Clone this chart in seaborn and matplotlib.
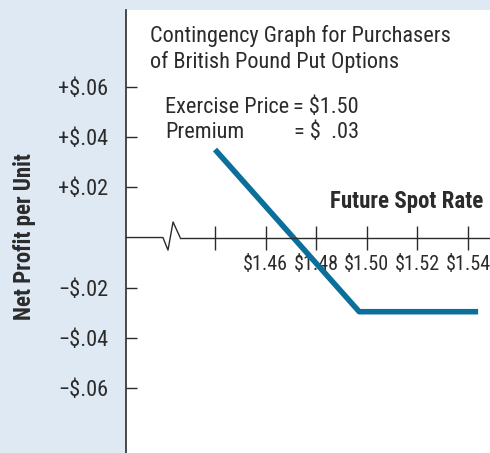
import numpy as np
import pandas as pd
import seaborn as sns
import matplotlib.pyplot as plt

# values
spot_rate = [1.44, 1.497, 1.544]
net_profit = [0.035, -0.0295, -0.0295]

x_ticks = [1.44, 1.46, 1.48, 1.50, 1.52, 1.54]
x_tick_labels = ["", "$1.46", "$1.48", "$1.50", "$1.52", "$1.54"]
y_ticks = [0.06, 0.04, 0.02, -0.02, -0.04, -0.06]
y_tick_labels = ["+$.06", "+$.04", "+$.02", "\u2212$.02", "\u2212$.04", "\u2212$.06"]

title_lines = ["Contingency Graph for Purchasers", "of British Pound Put Options"]
exercise_price = "$1.50"
premium = "$  .03"

sns.set_theme(style="white")
plt.rcParams['font.family'] = ['Roboto Condensed', 'Liberation Sans', 'DejaVu Sans']
plt.rcParams['text.parse_math'] = False

W, H = 490, 453
bg = "#dfe9f4"
line_col = "#0a6f9b"
ink = "#2b2b2b"

fig = plt.figure(figsize=(W / 100, H / 100), dpi=100)
fig.patch.set_facecolor(bg)
ax = fig.add_axes([126 / W, 0, (W - 126) / W, (H - 10) / H])
ax.set_facecolor("white")

df = pd.DataFrame({"rate": spot_rate, "profit": net_profit})
sns.lineplot(data=df, x="rate", y="profit", ax=ax, color=line_col,
             linewidth=4, sort=False, solid_capstyle="butt")

ax.set_xlim(1.4048, 1.5487)
ax.set_ylim(-0.0857, 0.0905)

for s in ["top", "right"]:
    ax.spines[s].set_visible(False)
ax.spines["left"].set_color(ink)
ax.spines["left"].set_linewidth(1.2)

# x axis sits at zero, with a break mark near the y axis
brk = 1.4262
ax.spines["bottom"].set_position(("data", 0))
ax.spines["bottom"].set_bounds(brk, 1.5487)
ax.spines["bottom"].set_color(ink)
ax.spines["bottom"].set_linewidth(1.0)
ax.plot([1.4048, 1.4194, 1.4214, 1.4234, brk], [0, 0, -0.005, 0.0062, 0],
        color=ink, lw=1.0, clip_on=False)

ax.set_xticks(x_ticks)
ax.set_xticklabels(x_tick_labels)
ax.tick_params(axis="x", direction="inout", length=17, width=1.0, color=ink,
               labelsize=14.5, labelcolor=ink, pad=4, bottom=True)

ax.set_yticks(y_ticks)
ax.set_yticklabels(y_tick_labels)
ax.tick_params(axis="y", direction="in", length=8, width=1.0, color=ink,
               labelsize=16, labelcolor=ink, pad=13, left=True)

ax.set_xlabel("")
ax.set_ylabel("")

def px(x, y):
    return x / W, 1 - y / H

fs = 16
fig.text(*px(150, 42), title_lines[0], fontsize=fs, color=ink, va="baseline")
fig.text(*px(150, 68), title_lines[1], fontsize=fs, color=ink, va="baseline")
fig.text(*px(165, 113), "Exercise Price", fontsize=fs, color=ink, va="baseline")
fig.text(*px(293, 113), "= " + exercise_price, fontsize=fs, color=ink, va="baseline")
fig.text(*px(165, 138), "Premium", fontsize=fs, color=ink, va="baseline")
fig.text(*px(294, 138), "= " + premium, fontsize=fs, color=ink, va="baseline")
fig.text(*px(483, 208), "Future Spot Rate", fontsize=16.5, fontweight="bold",
         color=ink, va="baseline", ha="right")
fig.text(*px(25, 237), "Net Profit per Unit", fontsize=16.5, fontweight="bold",
         color=ink, va="center", ha="center", rotation=90)

fig.savefig("out.png", dpi=100, facecolor=bg)
